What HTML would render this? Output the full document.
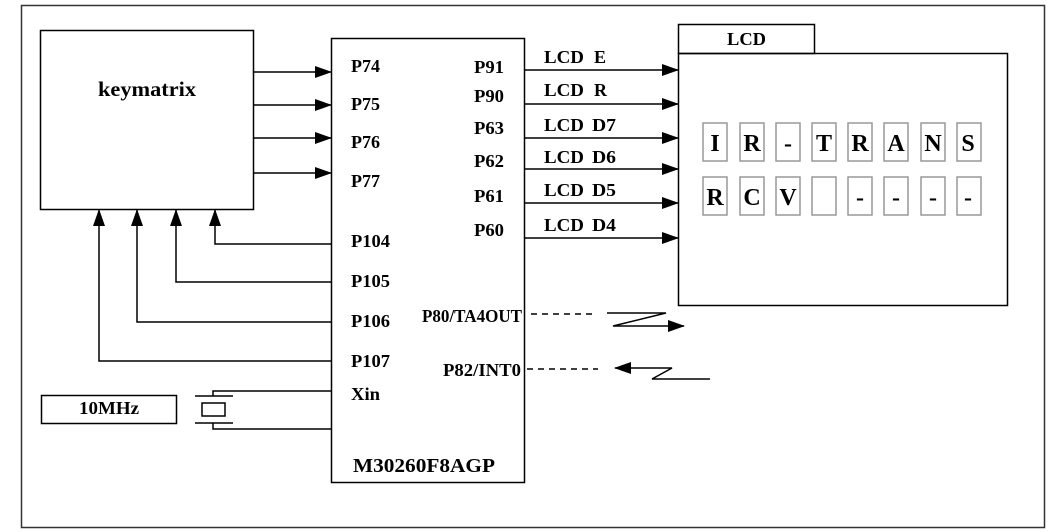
<!DOCTYPE html>
<html><head><meta charset="utf-8"><style>
html,body{margin:0;padding:0;background:#fff;}
svg{display:block;}
text{font-family:"Liberation Serif",serif;font-weight:bold;fill:#000;}
</style></head><body>
<svg width="1056" height="532" viewBox="0 0 1056 532" xmlns="http://www.w3.org/2000/svg">
<defs>
<marker id="ah" markerWidth="17" markerHeight="12" refX="16" refY="6" orient="auto" markerUnits="userSpaceOnUse">
<path d="M0,0 L17,6 L0,12 z" fill="#000"/>
</marker>
</defs>
<g fill="none" stroke="#000" stroke-width="1.5">
<rect x="21.5" y="5.5" width="1023" height="522" stroke="#333"/>
<rect x="40.5" y="30.5" width="213" height="179"/>
<rect x="331.5" y="38.5" width="193" height="444"/>
<rect x="678.5" y="24.5" width="136" height="29"/>
<rect x="678.5" y="53.5" width="329" height="252"/>
<rect x="41.5" y="395.5" width="135" height="28"/>
</g>
<g stroke="#000" stroke-width="1.5" fill="none">
<line x1="254" y1="72" x2="331" y2="72" marker-end="url(#ah)"/>
<line x1="254" y1="105" x2="331" y2="105" marker-end="url(#ah)"/>
<line x1="254" y1="138" x2="331" y2="138" marker-end="url(#ah)"/>
<line x1="254" y1="173" x2="331" y2="173" marker-end="url(#ah)"/>
<path d="M331,244 H215 V210" marker-end="url(#ah)"/>
<path d="M331,282 H176 V210" marker-end="url(#ah)"/>
<path d="M331,322 H137 V210" marker-end="url(#ah)"/>
<path d="M331,361 H99 V210" marker-end="url(#ah)"/>
<line x1="525" y1="70" x2="678" y2="70" marker-end="url(#ah)"/>
<line x1="525" y1="104" x2="678" y2="104" marker-end="url(#ah)"/>
<line x1="525" y1="138" x2="678" y2="138" marker-end="url(#ah)"/>
<line x1="525" y1="169" x2="678" y2="169" marker-end="url(#ah)"/>
<line x1="525" y1="203" x2="678" y2="203" marker-end="url(#ah)"/>
<line x1="525" y1="238" x2="678" y2="238" marker-end="url(#ah)"/>
<path d="M331,391 H213 V396"/>
<path d="M331,429 H213 V423"/>
<line x1="195" y1="396" x2="233" y2="396"/>
<line x1="195" y1="423" x2="233" y2="423"/>
<rect x="202" y="403" width="23" height="13"/>
<line x1="531" y1="314" x2="596" y2="314" stroke-dasharray="6,5"/>
<line x1="527" y1="369" x2="598" y2="369" stroke-dasharray="6,5"/>
<path d="M607,313 H666 L613,326 H684" marker-end="url(#ah)"/>
<path d="M710,379 H652 L672,368 H615" marker-end="url(#ah)"/>
</g>
<g fill="none" stroke="#999" stroke-width="1.5">
<rect x="703" y="123" width="24" height="38"/><rect x="740" y="123" width="24" height="38"/><rect x="776" y="123" width="24" height="38"/><rect x="812" y="123" width="24" height="38"/><rect x="848" y="123" width="24" height="38"/><rect x="884" y="123" width="24" height="38"/><rect x="921" y="123" width="24" height="38"/><rect x="957" y="123" width="24" height="38"/>
<rect x="703" y="177" width="24" height="38"/><rect x="740" y="177" width="24" height="38"/><rect x="776" y="177" width="24" height="38"/><rect x="812" y="177" width="24" height="38"/><rect x="848" y="177" width="24" height="38"/><rect x="884" y="177" width="24" height="38"/><rect x="921" y="177" width="24" height="38"/><rect x="957" y="177" width="24" height="38"/>
</g>
<g font-size="24" text-anchor="middle">
<text x="715" y="151">I</text><text x="752" y="151">R</text><text x="788" y="151">-</text><text x="824" y="151">T</text><text x="860" y="151">R</text><text x="896" y="151">A</text><text x="933" y="151">N</text><text x="968" y="151">S</text>
<text x="715" y="205">R</text><text x="752" y="205">C</text><text x="788" y="205">V</text><text x="860" y="205">-</text><text x="896" y="205">-</text><text x="933" y="205">-</text><text x="968" y="205">-</text>
</g>
<g font-size="18">
<text x="98" y="96" textLength="98" lengthAdjust="spacingAndGlyphs" font-size="21">keymatrix</text>
<text x="727" y="45" textLength="39" lengthAdjust="spacingAndGlyphs">LCD</text>
<text x="351" y="72" textLength="29" lengthAdjust="spacingAndGlyphs">P74</text>
<text x="351" y="110" textLength="29" lengthAdjust="spacingAndGlyphs">P75</text>
<text x="351" y="148" textLength="29" lengthAdjust="spacingAndGlyphs">P76</text>
<text x="351" y="187" textLength="29" lengthAdjust="spacingAndGlyphs">P77</text>
<text x="351" y="247" textLength="39" lengthAdjust="spacingAndGlyphs">P104</text>
<text x="351" y="287" textLength="39" lengthAdjust="spacingAndGlyphs">P105</text>
<text x="351" y="327" textLength="39" lengthAdjust="spacingAndGlyphs">P106</text>
<text x="351" y="367" textLength="39" lengthAdjust="spacingAndGlyphs">P107</text>
<text x="351" y="400" textLength="29" lengthAdjust="spacingAndGlyphs">Xin</text>
<text x="353" y="472" textLength="142" lengthAdjust="spacingAndGlyphs" font-size="20">M30260F8AGP</text>
<text x="474" y="73" textLength="30" lengthAdjust="spacingAndGlyphs">P91</text>
<text x="474" y="102" textLength="30" lengthAdjust="spacingAndGlyphs">P90</text>
<text x="474" y="134" textLength="30" lengthAdjust="spacingAndGlyphs">P63</text>
<text x="474" y="167" textLength="30" lengthAdjust="spacingAndGlyphs">P62</text>
<text x="474" y="202" textLength="30" lengthAdjust="spacingAndGlyphs">P61</text>
<text x="474" y="236" textLength="30" lengthAdjust="spacingAndGlyphs">P60</text>
<text x="544" y="63" textLength="40" lengthAdjust="spacingAndGlyphs">LCD</text><text x="594" y="63">E</text>
<text x="544" y="96" textLength="40" lengthAdjust="spacingAndGlyphs">LCD</text><text x="594" y="96">R</text>
<text x="544" y="131" textLength="40" lengthAdjust="spacingAndGlyphs">LCD</text><text x="592" y="131" textLength="24" lengthAdjust="spacingAndGlyphs">D7</text>
<text x="544" y="163" textLength="40" lengthAdjust="spacingAndGlyphs">LCD</text><text x="592" y="163" textLength="24" lengthAdjust="spacingAndGlyphs">D6</text>
<text x="544" y="196" textLength="40" lengthAdjust="spacingAndGlyphs">LCD</text><text x="592" y="196" textLength="24" lengthAdjust="spacingAndGlyphs">D5</text>
<text x="544" y="231" textLength="40" lengthAdjust="spacingAndGlyphs">LCD</text><text x="592" y="231" textLength="24" lengthAdjust="spacingAndGlyphs">D4</text>
<text x="422" y="322" textLength="100" lengthAdjust="spacingAndGlyphs">P80/TA4OUT</text>
<text x="443" y="376" textLength="78" lengthAdjust="spacingAndGlyphs">P82/INT0</text>
<text x="79" y="414" textLength="60" lengthAdjust="spacingAndGlyphs">10MHz</text>
</g>
</svg>
</body></html>
